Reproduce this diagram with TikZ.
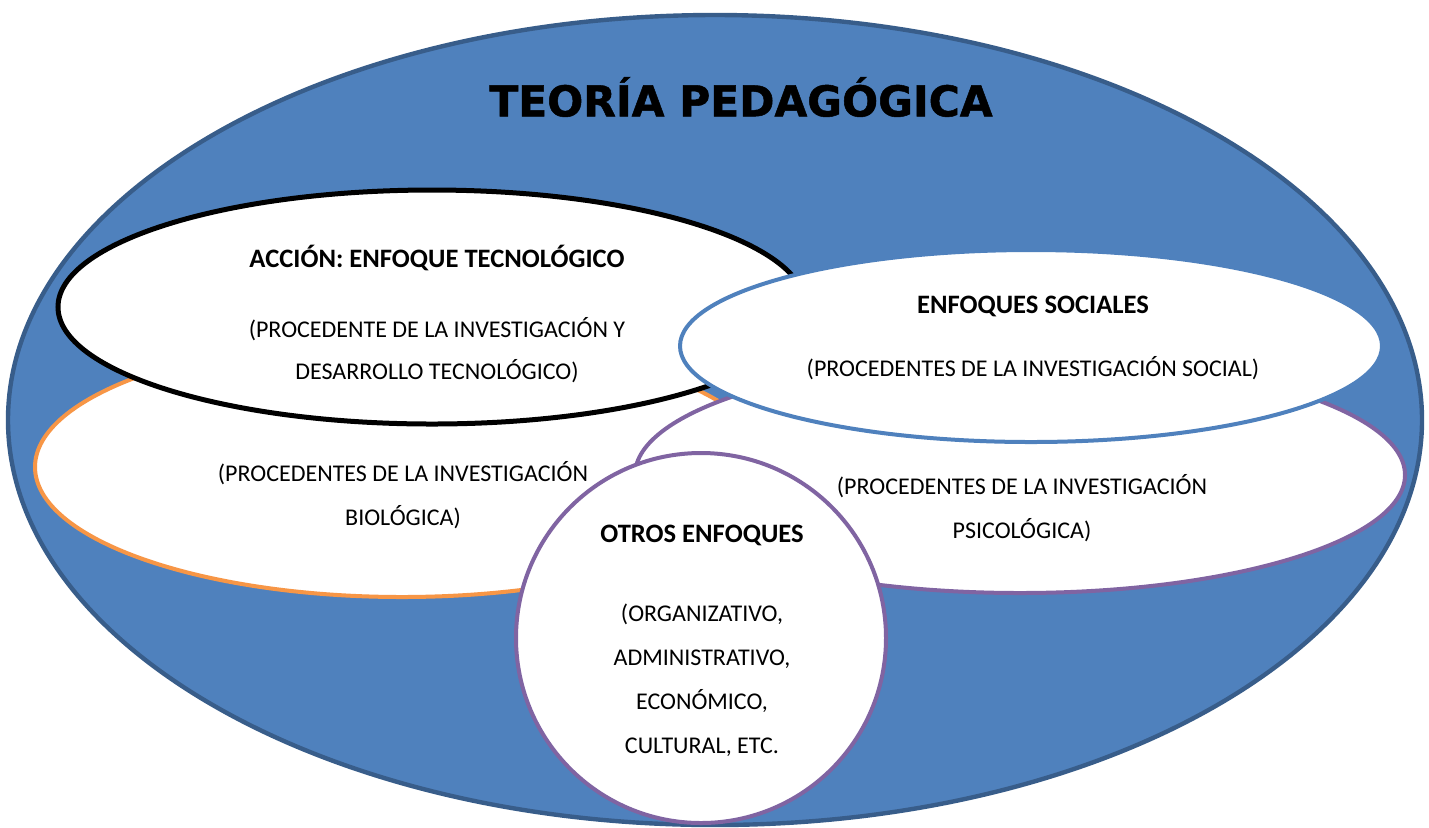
\documentclass[tikz,border=0pt]{standalone}
\usepackage{fontspec}
\setmainfont{Carlito}
\newfontfamily\titlefont[BoldFeatures={FakeBold=1.2}]{DejaVu Sans}
\usetikzlibrary{shapes.geometric}
\definecolor{fondo}{HTML}{4F81BD}
\definecolor{borde}{HTML}{385D8A}
\definecolor{naranja}{HTML}{F79646}
\definecolor{morado}{HTML}{8064A2}
\definecolor{azul}{HTML}{4F81BD}
\newcommand{\cab}[1]{{\fontsize{13.3}{22}\selectfont\textbf{#1}}}
\tikzset{
  elip/.style={ellipse,fill=white,inner sep=0pt,line width=2pt},
  txt/.style={align=center,font=\fontsize{12}{22}\selectfont,text=black},
  titulo/.style={font=\titlefont\bfseries\fontsize{21.2}{24}\selectfont,text=black},
}

\begin{document}
\begin{tikzpicture}[x=0.5pt,y=-0.5pt]
  \useasboundingbox (0,0) rectangle (1429,827);
  % outer theory
  \node[ellipse,draw=borde,fill=fondo,line width=2.2pt,inner sep=0pt,
    minimum width=707pt,minimum height=405pt] (teoria) at (715,420) {};
  % approaches
  \node[elip,draw=naranja,minimum width=367pt,minimum height=130pt] (bio) at (402,467) {};
  \node[elip,draw=morado,minimum width=385pt,minimum height=118pt] (psico) at (1020,475) {};
  \node[elip,draw=black,line width=2.5pt,minimum width=374pt,minimum height=117pt] (tecno) at (432,307) {};
  \node[elip,draw=azul,minimum width=351pt,minimum height=96pt] (social) at (1031,346) {};
  \node[elip,circle,draw=morado,minimum size=185pt] (otros) at (701,638) {};
  % labels
  \node[titulo] (tit) at (741,97) {TEORÍA PEDAGÓGICA};
  \node[txt,font=\fontsize{12}{21}\selectfont] (tecnoT) at (437,314)
    {\cab{ACCIÓN: ENFOQUE TECNOLÓGICO}\\[14pt](PROCEDENTE DE LA INVESTIGACIÓN Y\\DESARROLLO TECNOLÓGICO)};
  \node[txt] (socialT) at (1033,338)
    {\cab{ENFOQUES SOCIALES}\\[9.5pt](PROCEDENTES DE LA INVESTIGACIÓN SOCIAL)};
  \node[txt] (bioT) at (403,495) {(PROCEDENTES DE LA INVESTIGACIÓN\\BIOLÓGICA)};
  \node[txt] (psicoT) at (1022,508) {(PROCEDENTES DE LA INVESTIGACIÓN\\PSICOLÓGICA)};
  \node[txt] (otrosT) at (702,641)
    {\cab{OTROS ENFOQUES}\\[17.5pt](ORGANIZATIVO,\\ADMINISTRATIVO,\\ECONÓMICO,\\CULTURAL, ETC.};
\end{tikzpicture}
\end{document}
